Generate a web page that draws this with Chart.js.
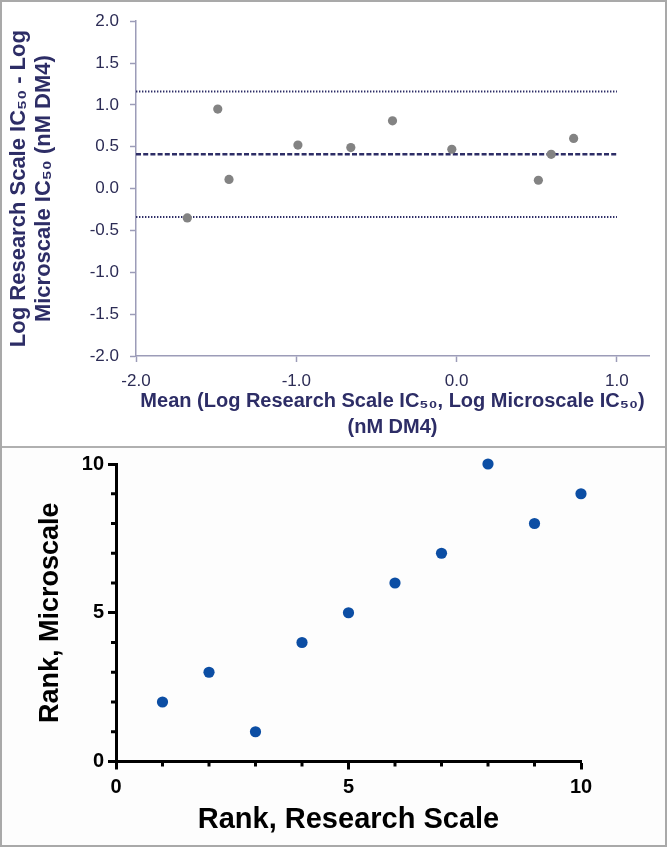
<!DOCTYPE html>
<html><head><meta charset="utf-8">
<script src="https://cdn.jsdelivr.net/npm/chart.js@4.4.1/dist/chart.umd.min.js"></script>
<style>
html,body{margin:0;padding:0;background:#fff;}
#wrap{position:relative;width:667px;height:847px;overflow:hidden;background:#fff;}
#c1{position:absolute;left:0;top:0;}
#c2{position:absolute;left:0;top:448px;background:#fdfdfd;}
#frame{position:absolute;left:0;top:0;width:667px;height:847px;box-sizing:border-box;border:2px solid #a9a9a9;pointer-events:none;}
#divider{position:absolute;left:0;top:446px;width:667px;height:2px;background:#b0b0b0;}
</style></head>
<body>
<div id="wrap">
  <canvas id="c1" width="667" height="446"></canvas>
  <canvas id="c2" width="667" height="399"></canvas>
  <div id="divider"></div>
  <div id="frame"></div>
</div>
<script>
// ---- Top panel: Bland-Altman ----
const meanLogIC50 = [-1.68, -1.49, -1.42, -0.99, -0.66, -0.40, -0.03, 0.51, 0.59, 0.73];
const diffLogIC50 = [-0.35, 0.95, 0.11, 0.52, 0.49, 0.81, 0.47, 0.10, 0.41, 0.60];
const biasValue = [0.41];
const upperLimit = [1.16];
const lowerLimit = [-0.34];
const refLineX = [-2.0, 1.0];
const topXTicks = [-2.0, -1.0, 0.0, 1.0];

// ---- Bottom panel: ranks ----
const rankResearch = [1, 2, 3, 4, 5, 6, 7, 8, 9, 10];
const rankMicro    = [2, 3, 1, 4, 5, 6, 7, 10, 8, 9];

const navy = '#2d2d66';
const tickNavy = '#2c2c55';
const axisGrey = '#9c9cb8';
const FONT = "'Liberation Sans', Arial, Helvetica, sans-serif";

function hline(y){ return refLineX.map(x => ({x: x, y: y})); }

new Chart(document.getElementById('c1'), {
  type: 'scatter',
  data: {
    datasets: [
      { data: meanLogIC50.map((x,i)=>({x:x, y:diffLogIC50[i]})),
        backgroundColor: '#838383', borderWidth: 0, pointRadius: 4.6, pointHoverRadius: 4.6 },
      { type:'line', data: hline(biasValue[0]), borderColor: navy, borderWidth: 2.5,
        borderDash: [5, 2.2], pointRadius: 0, fill: false },
      { type:'line', data: hline(upperLimit[0]), borderColor: navy, borderWidth: 2,
        borderDash: [1.4, 1.6], pointRadius: 0, fill: false },
      { type:'line', data: hline(lowerLimit[0]), borderColor: navy, borderWidth: 2,
        borderDash: [1.4, 1.6], pointRadius: 0, fill: false }
    ]
  },
  options: {
    responsive: false, animation: false, devicePixelRatio: 1,
    layout: { padding: { left: 0, right: 18, top: 19, bottom: 0 } },
    plugins: { legend: { display: false }, tooltip: { enabled: false } },
    scales: {
      x: {
        type: 'linear', min: -2, max: 1.2,
        afterBuildTicks: s => { s.ticks = topXTicks.map(v => ({ value: v })); },
        afterFit: s => { s.height = 90; },
        ticks: { color: tickNavy, padding: 9, maxRotation: 0, autoSkip: false,
          font: { family: FONT, size: 17 }, callback: v => Number(v).toFixed(1) },
        grid: { drawOnChartArea: false, drawTicks: true, tickLength: 6, color: axisGrey, tickWidth: 1.5 },
        border: { color: axisGrey, width: 1.5 },
        title: { display: true, color: navy,
          text: ['Mean (Log Research Scale IC\u2085\u2080, Log Microscale IC\u2085\u2080)', '(nM DM4)'],
          font: { family: FONT, size: 20, weight: 'bold', lineHeight: 1.3 },
          padding: { top: 0, bottom: 6 } }
      },
      y: {
        type: 'linear', min: -2, max: 2,
        afterFit: s => { s.width = 136; },
        ticks: { stepSize: 0.5, color: tickNavy, padding: 11,
          font: { family: FONT, size: 17 }, callback: v => Number(v).toFixed(1) },
        grid: { drawOnChartArea: false, drawTicks: true, tickLength: 6, color: axisGrey, tickWidth: 1.5 },
        border: { color: axisGrey, width: 1.5 },
        title: { display: true, color: navy,
          text: ['Log Research Scale IC\u2085\u2080 - Log', 'Microscale IC\u2085\u2080 (nM DM4)'],
          font: { family: FONT, size: 22, weight: 'bold', lineHeight: 1.12 },
          padding: { top: 7, bottom: 0 } }
      }
    }
  }
});

const minorTicks = {
  id: 'minorTicks',
  afterDraw(chart) {
    const ctx = chart.ctx;
    ctx.save();
    ctx.strokeStyle = '#000';
    ctx.lineWidth = 3;
    const xs = chart.scales.x, ys = chart.scales.y;
    xs.ticks.forEach(t => {
      if (t.value % 5 !== 0) {
        const px = xs.getPixelForValue(t.value);
        ctx.beginPath(); ctx.moveTo(px, xs.top); ctx.lineTo(px, xs.top + 5); ctx.stroke();
      }
    });
    ys.ticks.forEach(t => {
      if (t.value % 5 !== 0) {
        const py = ys.getPixelForValue(t.value);
        ctx.beginPath(); ctx.moveTo(ys.right - 5, py); ctx.lineTo(ys.right, py); ctx.stroke();
      }
    });
    ctx.restore();
  }
};

new Chart(document.getElementById('c2'), {
  type: 'scatter',
  data: {
    datasets: [
      { data: rankResearch.map((x,i)=>({x:x, y:rankMicro[i]})),
        backgroundColor: '#0c4ea4', borderWidth: 0, pointRadius: 5.6, pointHoverRadius: 5.6, clip: false }
    ]
  },
  plugins: [minorTicks],
  options: {
    responsive: false, animation: false, devicePixelRatio: 1,
    layout: { padding: { left: 0, right: 86, top: 16, bottom: 0 } },
    plugins: { legend: { display: false }, tooltip: { enabled: false } },
    scales: {
      x: {
        type: 'linear', min: 0, max: 10,
        afterFit: s => { s.height = 85.5; },
        ticks: { stepSize: 1, color: '#000', padding: 6, maxRotation: 0, autoSkip: false,
          font: { family: FONT, size: 20, weight: 'bold' }, callback: v => (v % 5 === 0 ? String(v) : '') },
        grid: { drawOnChartArea: false, drawTicks: true, tickLength: 8, tickWidth: 3,
          tickColor: c => (c.tick && c.tick.value % 5 === 0 ? '#000' : 'rgba(0,0,0,0)') },
        border: { color: '#000', width: 3 },
        title: { display: true, color: '#000', text: 'Rank, Research Scale',
          font: { family: FONT, size: 29, weight: 'bold', lineHeight: 1.2 },
          padding: { top: 0, bottom: 10 } }
      },
      y: {
        type: 'linear', min: 0, max: 10,
        afterFit: s => { s.width = 116; },
        ticks: { stepSize: 1, color: '#000', padding: 4, autoSkip: false,
          font: { family: FONT, size: 20, weight: 'bold' }, callback: v => (v % 5 === 0 ? String(v) : '') },
        grid: { drawOnChartArea: false, drawTicks: true, tickLength: 8, tickWidth: 3,
          tickColor: c => (c.tick && c.tick.value % 5 === 0 ? '#000' : 'rgba(0,0,0,0)') },
        border: { color: '#000', width: 3 },
        title: { display: true, color: '#000', text: 'Rank, Microscale',
          font: { family: FONT, size: 27, weight: 'bold', lineHeight: 1.2 },
          padding: { top: 34, bottom: 0 } }
      }
    }
  }
});
</script>
</body></html>
